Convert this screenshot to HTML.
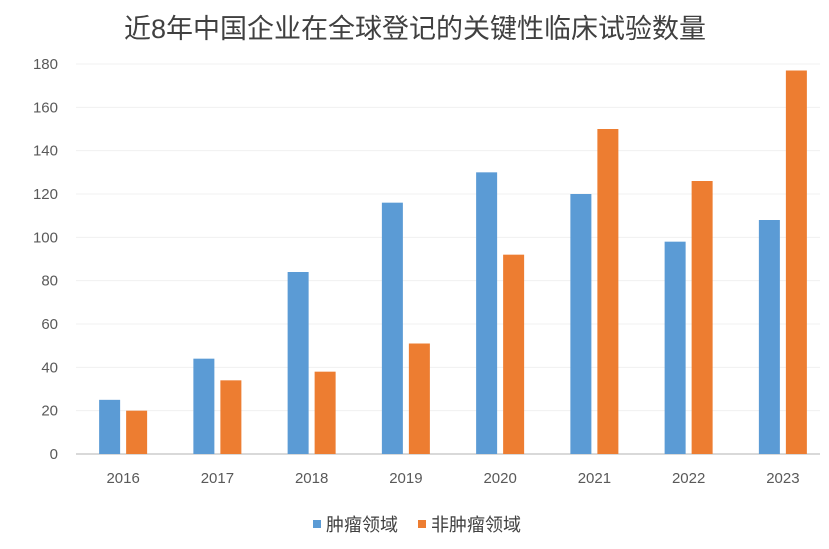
<!DOCTYPE html>
<html><head><meta charset="utf-8"><style>
html,body{margin:0;padding:0;background:#fff;}
body{width:829px;height:544px;overflow:hidden;font-family:"Liberation Sans","Noto Sans CJK SC",sans-serif;}
</style></head><body>
<svg id="chart" width="829" height="544" xmlns="http://www.w3.org/2000/svg">
<text x="415" y="38" text-anchor="middle" font-size="27" fill="#404040" font-family="Liberation Sans, Noto Sans CJK SC, sans-serif">近8年中国企业在全球登记的关键性临床试验数量</text>
<g id="grid"></g><g id="bars"></g><g id="labels"></g>
<g>
<rect x="313" y="520" width="8" height="8" fill="#5b9bd5"/>
<text x="326" y="531" font-size="18" fill="#404040">肿瘤领域</text>
<rect x="418" y="520" width="8" height="8" fill="#ed7d31"/>
<text x="431" y="531" font-size="18" fill="#404040">非肿瘤领域</text>
</g>
</svg>
<script>
const categories=["2016","2017","2018","2019","2020","2021","2022","2023"];
const oncology=[25,44,84,116,130,120,98,108];
const nonOncology=[20,34,38,51,92,150,126,177];
const yTicks=[0,20,40,60,80,100,120,140,160,180];
const NS="http://www.w3.org/2000/svg";
const plotLeft=76,plotRight=830,plotTop=64,plotBottom=454,yMax=180;
const band=(plotRight-plotLeft)/categories.length;
function y(v){return plotBottom-(v/yMax)*(plotBottom-plotTop);}
function xc(i){return plotLeft+band*(i+0.5);}
function mk(t,a,p){const e=document.createElementNS(NS,t);for(const k in a)e.setAttribute(k,a[k]);p.appendChild(e);return e;}
const grid=document.getElementById('grid'),bars=document.getElementById('bars'),labels=document.getElementById('labels');
yTicks.forEach(v=>{
  const l=mk('line',{x1:plotLeft,x2:820,y1:y(v),y2:y(v),stroke:v===0?'#d9d9d9':'#f0f0f0','stroke-width':v===0?2:1},grid);
  
  
  const t=mk('text',{x:58,y:y(v)+5,'text-anchor':'end','font-size':15,fill:'#595959'},labels);
  t.textContent=v;
  
  
});
categories.forEach((c,i)=>{
  const cx=xc(i);
  const b1=mk('rect',{x:cx-24,y:y(oncology[i]),width:21,height:plotBottom-y(oncology[i]),fill:'#5b9bd5'},bars);
  
  
  const b2=mk('rect',{x:cx+3,y:y(nonOncology[i]),width:21,height:plotBottom-y(nonOncology[i]),fill:'#ed7d31'},bars);
  
  
  const t=mk('text',{x:cx,y:483,'text-anchor':'middle','font-size':15,fill:'#595959'},labels);
  t.textContent=c;
  
  
});
</script>
</body></html>
